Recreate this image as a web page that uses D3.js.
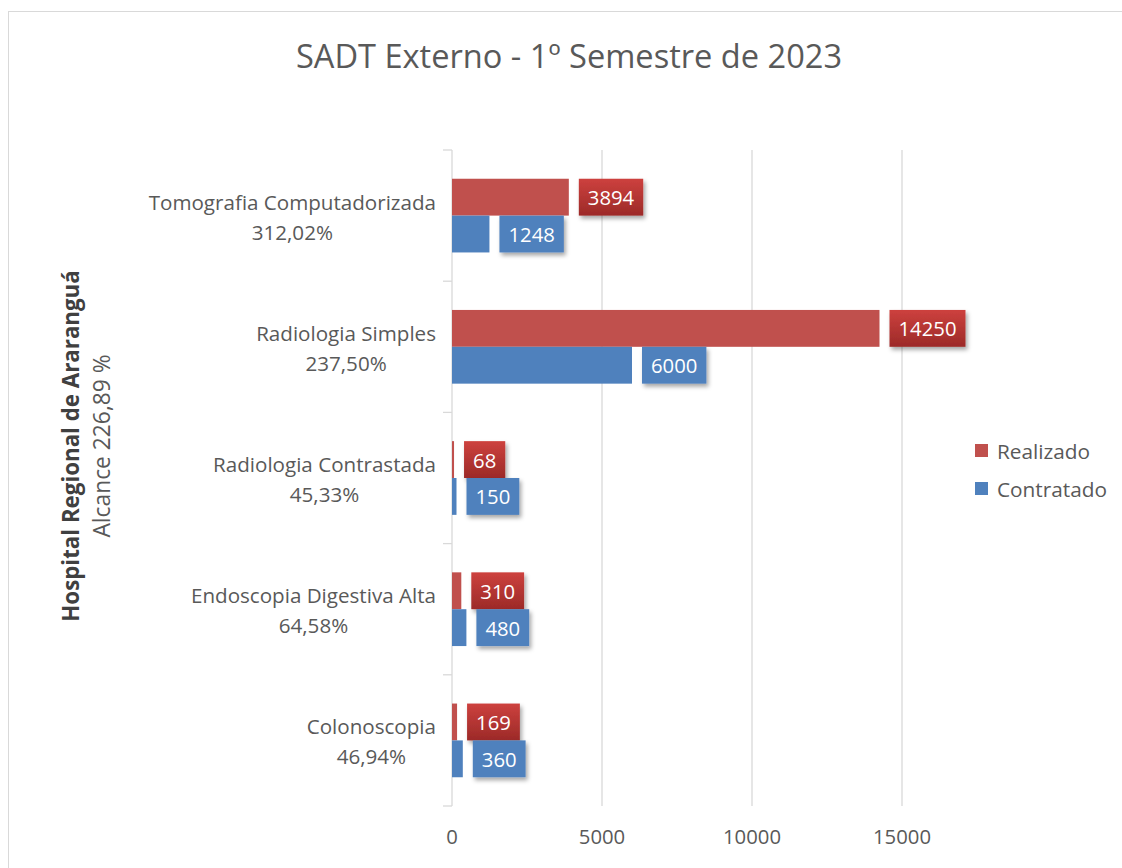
<!DOCTYPE html>
<html>
<head>
<meta charset="utf-8">
<script src="https://cdn.jsdelivr.net/npm/d3@7"></script>
<style>
  html, body { margin: 0; padding: 0; background: #fff; }
  svg { display: block; font-family: "Open Sans", "Noto Sans", sans-serif; }
</style>
</head>
<body>
<div id="chart"></div>
<script>
// Values.
var categories = [
  "Tomografia Computadorizada",
  "Radiologia Simples",
  "Radiologia Contrastada",
  "Endoscopia Digestiva Alta",
  "Colonoscopia"
];
var realizado = [3894, 14250, 68, 310, 169];
var contratado = [1248, 6000, 150, 480, 360];
var seriesNames = ["Realizado", "Contratado"];
var xTicks = [0, 5000, 10000, 15000];
var title = "SADT Externo - 1º Semestre de 2023";
var axisTitle = "Hospital Regional de Araranguá";

(function () {
  var W = 1122, H = 868;
  var red = "#C0504D", blue = "#4F81BD";
  var text = "#595959", grid = "#d9d9d9";

  function pct(v) { return (v * 100).toFixed(2).replace(".", ",") + "%"; }
  var sumR = d3.sum(realizado), sumC = d3.sum(contratado);

  var svg = d3.select("#chart").append("svg").attr("width", W).attr("height", H);

  var defs = svg.append("defs");
  var grad = defs.append("linearGradient").attr("id", "redGrad")
    .attr("x1", 0).attr("y1", 0).attr("x2", 0).attr("y2", 1);
  grad.append("stop").attr("offset", "0%").attr("stop-color", "#CD413E");
  grad.append("stop").attr("offset", "100%").attr("stop-color", "#9C2A28");
  var sh = defs.append("filter").attr("id", "shadow")
    .attr("x", "-20%").attr("y", "-20%").attr("width", "150%").attr("height", "160%");
  sh.append("feDropShadow").attr("dx", 2).attr("dy", 3).attr("stdDeviation", 2)
    .attr("flood-color", "#000").attr("flood-opacity", 0.35);

  // chart frame (only left/top edges fall inside the picture)
  svg.append("rect").attr("x", 8.5).attr("y", 11.5).attr("width", W + 20).attr("height", H + 20)
    .attr("fill", "none").attr("stroke", grid);

  var x = d3.scaleLinear().domain([0, 18000]).range([452, 992]);
  var y = d3.scaleBand().domain(categories).range([150, 806]).paddingInner(0).paddingOuter(0);
  var ys = d3.scaleBand().domain(seriesNames).range([0, y.bandwidth()])
    .paddingInner(0).paddingOuter(0.78);

  // gridlines
  svg.append("g").selectAll("line").data(xTicks.slice(1)).enter().append("line")
    .attr("x1", function (d) { return x(d); }).attr("x2", function (d) { return x(d); })
    .attr("y1", 150).attr("y2", 806)
    .attr("stroke", grid).attr("stroke-width", 1.3);

  // category axis with ticks at band boundaries
  var gy = svg.append("g");
  gy.append("line").attr("x1", x(0)).attr("x2", x(0)).attr("y1", 150).attr("y2", 806)
    .attr("stroke", grid).attr("stroke-width", 1.3);
  var bounds = categories.map(function (c) { return y(c); }).concat([y.range()[1]]);
  gy.selectAll(".tk").data(bounds).enter().append("line")
    .attr("x1", x(0) - 9).attr("x2", x(0))
    .attr("y1", function (d) { return d; }).attr("y2", function (d) { return d; })
    .attr("stroke", grid).attr("stroke-width", 1.3);

  // x tick labels
  svg.append("g").selectAll("text").data(xTicks).enter().append("text")
    .attr("x", function (d) { return x(d); }).attr("y", 836)
    .attr("text-anchor", "middle").attr("dominant-baseline", "central")
    .attr("font-size", "20.3px").attr("fill", text).text(function (d) { return d; });

  // category labels: two centered lines, block right-aligned
  categories.forEach(function (c, i) {
    var cy = y(c) + y.bandwidth() / 2;
    var g = svg.append("g").attr("font-size", "20.6px").attr("fill", text);
    var t1 = g.append("text").attr("y", cy - 14).attr("dominant-baseline", "central")
      .attr("text-anchor", "middle").text(c);
    var t2 = g.append("text").attr("y", cy + 16).attr("dominant-baseline", "central")
      .attr("text-anchor", "middle").text(pct(realizado[i] / contratado[i]));
    var mw = Math.max(t1.node().getComputedTextLength(), t2.node().getComputedTextLength());
    t1.attr("x", 436 - mw / 2); t2.attr("x", 436 - mw / 2);
  });

  // bars + data labels
  var data = [
    { name: "Realizado", values: realizado, color: red, label: "url(#redGrad)" },
    { name: "Contratado", values: contratado, color: blue, label: blue }
  ];
  data.forEach(function (s) {
    s.values.forEach(function (v, i) {
      var by = y(categories[i]) + ys(s.name);
      var bh = ys.bandwidth();
      svg.append("rect").attr("x", x(0)).attr("y", by)
        .attr("width", x(v) - x(0)).attr("height", bh).attr("fill", s.color);
      var lg = svg.append("g");
      var box = lg.append("rect").attr("y", by).attr("height", bh)
        .attr("fill", s.label).attr("filter", "url(#shadow)");
      var t = lg.append("text").attr("y", by + bh / 2).attr("dominant-baseline", "central")
        .attr("text-anchor", "middle").attr("font-size", "20.3px").attr("fill", "#fff").text(v);
      var tw = t.node().getComputedTextLength();
      var bx = x(v) + 10;
      box.attr("x", bx).attr("width", tw + 18);
      t.attr("x", bx + (tw + 18) / 2);
    });
  });

  // legend
  var leg = svg.append("g").attr("font-size", "20.8px").attr("fill", text);
  data.forEach(function (s, i) {
    var ly = 444 + i * 38;
    leg.append("rect").attr("x", 975).attr("y", ly).attr("width", 13).attr("height", 13).attr("fill", s.color);
    leg.append("text").attr("x", 997).attr("y", ly + 7).attr("dominant-baseline", "central").text(s.name);
  });

  // title
  svg.append("text").attr("x", 569).attr("y", 55).attr("text-anchor", "middle")
    .attr("dominant-baseline", "central").attr("font-size", "32.6px").attr("fill", text).text(title);

  // rotated axis title
  var at = svg.append("g").attr("transform", "translate(0,446) rotate(-90)");
  at.append("text").attr("x", 0).attr("y", 70).attr("text-anchor", "middle")
    .attr("dominant-baseline", "central").attr("font-size", "22.3px").attr("font-weight", "bold")
    .attr("fill", "#404040").text(axisTitle);
  at.append("text").attr("x", 0).attr("y", 101).attr("text-anchor", "middle")
    .attr("dominant-baseline", "central").attr("font-size", "22.8px")
    .attr("fill", text).text("Alcance " + (sumR / sumC * 100).toFixed(2).replace(".", ",") + " %");
})();
</script>
</body>
</html>
